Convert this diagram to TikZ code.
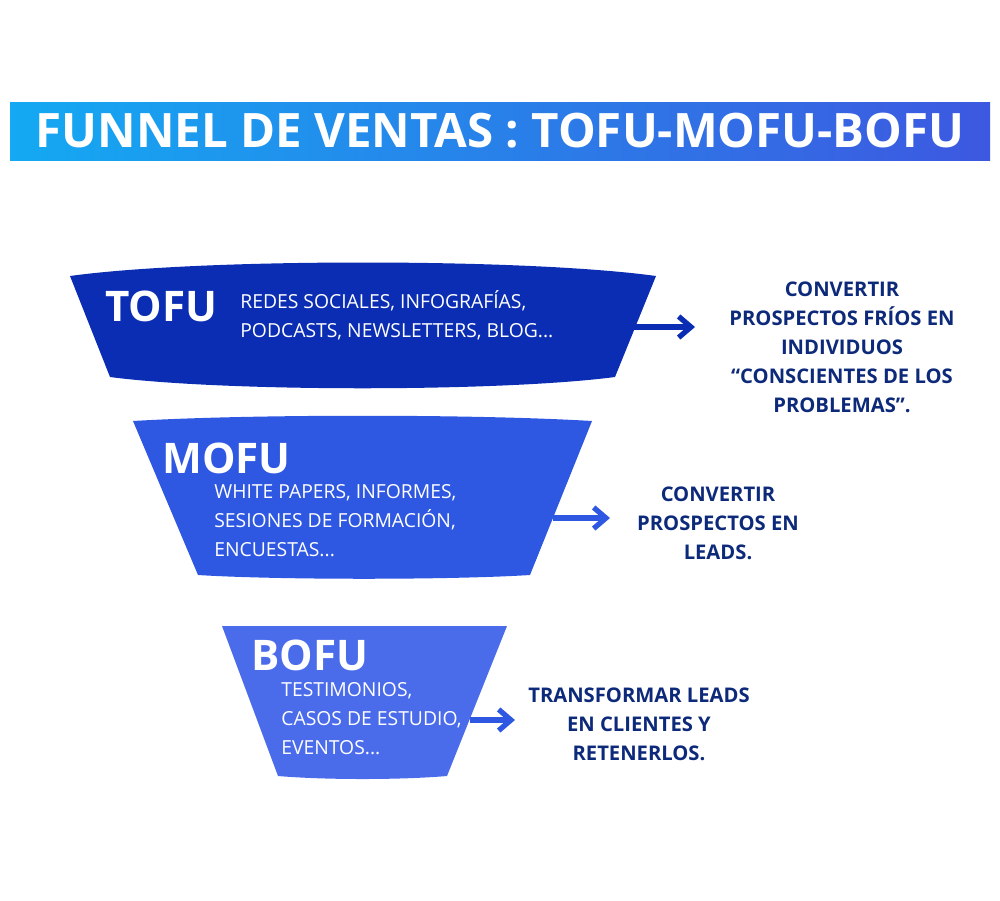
\documentclass[tikz,border=0pt]{standalone}
\usepackage{fontspec}
\setmainfont{Open Sans}
\usetikzlibrary{arrows.meta}
\definecolor{tofu}{HTML}{0A2DB3}
\definecolor{mofu}{HTML}{2E57E2}
\definecolor{bofu}{HTML}{4B6CEA}
\definecolor{navy}{HTML}{0D2A7A}
\definecolor{gl}{HTML}{14A9F2}
\definecolor{gr}{HTML}{3D58E0}
\begin{document}
\begin{tikzpicture}[x=0.02cm,y=-0.02cm,
  lab/.style={font=\fontsize{24}{24}\selectfont\bfseries,text=white,anchor=west,inner sep=0},
  item/.style={font=\fontsize{11}{16.5}\selectfont,text=white,anchor=north west,align=left,inner sep=0},
  goal/.style={font=\fontsize{11.5}{16.5}\selectfont\bfseries,text=navy,align=center,inner sep=0},
  arr/.style={line width=3pt,-{Straight Barb[length=7pt,width=12pt]}}]
\useasboundingbox (0,0) rectangle (1000,900);
\fill[left color=gl,right color=gr] (10,102) rectangle (990,160);
\node[font=\fontsize{27}{27}\selectfont\bfseries,text=white] (title) at (500,131) {FUNNEL DE VENTAS : TOFU-MOFU-BOFU};
% shapes
\fill[tofu] (70,276) .. controls (200,258) and (526,258) .. (656,276) -- (615,377) .. controls (500,392) and (225,392) .. (110,377) -- cycle;
\fill[mofu] (133,421) .. controls (250,414) and (475,414) .. (592,421) -- (530,575) .. controls (450,580) and (278,580) .. (198,575) -- cycle;
\fill[bofu] (222,626) -- (507,626) -- (447,776) .. controls (400,780) and (325,780) .. (278,776) -- cycle;
% labels
\node[lab] (t) at (105,306) {TOFU};
\node[item] (ti) at (240,290) {REDES SOCIALES, INFOGRAFÍAS,\\PODCASTS, NEWSLETTERS, BLOG...};
\node[lab] (m) at (162,458) {MOFU};
\node[item] (mi) at (214,484) {WHITE PAPERS, INFORMES,\\SESIONES DE FORMACIÓN,\\ENCUESTAS...};
\node[lab] (b) at (251,655) {BOFU};
\node[item] (bi) at (281,682) {TESTIMONIOS,\\CASOS DE ESTUDIO,\\EVENTOS...};
% goals
\node[goal] (tg) at (842,347) {CONVERTIR\\PROSPECTOS FRÍOS EN\\INDIVIDUOS\\“CONSCIENTES DE LOS\\PROBLEMAS”.};
\node[goal] (mg) at (718,523) {CONVERTIR\\PROSPECTOS EN\\LEADS.};
\node[goal] (bg) at (639,724) {TRANSFORMAR LEADS\\EN CLIENTES Y\\RETENERLOS.};
\coordinate (ta) at (615,327); \coordinate (tb) at (695,327);
\coordinate (ma) at (553,518); \coordinate (mb) at (610,518);
\coordinate (ba) at (470,720); \coordinate (bb) at (515,720);
\draw[arr,tofu] (ta) -- (tb);
\draw[arr,mofu] (ma) -- (mb);
\draw[arr,mofu] (ba) -- (bb);
\end{tikzpicture}
\end{document}
